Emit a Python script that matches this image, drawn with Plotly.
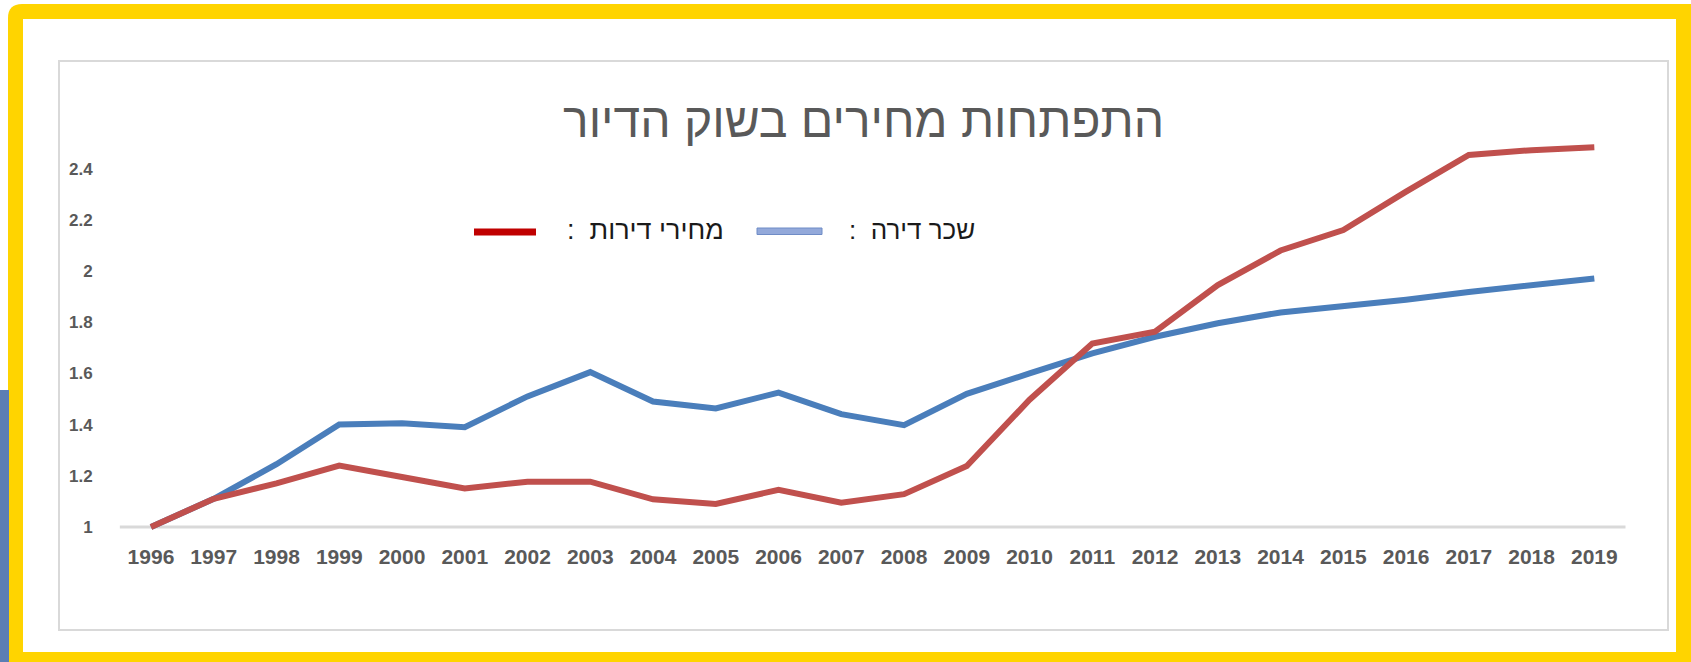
import plotly.graph_objects as go

# Index values (1996 = 1)
years = [str(y) for y in range(1996, 2020)]
rent_index = [1.00, 1.11, 1.245, 1.40, 1.405, 1.39, 1.51, 1.605, 1.49, 1.463, 1.525, 1.441,
              1.398, 1.52, 1.60, 1.678, 1.743, 1.796, 1.838, 1.862, 1.888, 1.918, 1.944, 1.971]
price_index = [1.00, 1.11, 1.17, 1.24, 1.195, 1.15, 1.177, 1.177, 1.108, 1.09, 1.145, 1.095,
               1.128, 1.238, 1.497, 1.717, 1.763, 1.945, 2.08, 2.16, 2.31, 2.453, 2.472, 2.483]
y_ticks = [1, 1.2, 1.4, 1.6, 1.8, 2, 2.2, 2.4]
y_tick_text = ["1", "1.2", "1.4", "1.6", "1.8", "2", "2.2", "2.4"]

title_text = "התפתחות מחירים בשוק הדיור"
rent_label = "שכר דירה :"
price_label = "מחירי דירות :"

W, H = 1691, 662
RLM = "\u200f"

BLUE = "#4A7EBB"
RED = "#C0504D"
GOLD = "#FFD400"
FONT = "Liberation Sans, Arial, sans-serif"


def px(x):
    return x / W


def py(y):
    return 1 - y / H


def legend_text(label):
    # widen the gap before the colon and keep the colon on the left (RTL)
    return label.replace(" :", "\u00a0\u00a0:") + RLM


fig = go.Figure()
fig.add_trace(go.Scatter(x=years, y=rent_index, mode="lines", name=rent_label,
                         line=dict(color=BLUE, width=6), showlegend=False))
fig.add_trace(go.Scatter(x=years, y=price_index, mode="lines", name=price_label,
                         line=dict(color=RED, width=6), showlegend=False))

shapes = []
# yellow frame with a rounded top-left corner
r = 14
x0, y0, x1, y1 = px(8), py(4), px(1691) + 0.01, py(662) - 0.01
rx, ry = r / W, r / H
shapes.append(dict(
    type="path", xref="paper", yref="paper", layer="below",
    path=(f"M{x0},{y1} L{x0},{y0 - ry} Q{x0},{y0} {x0 + rx},{y0} "
          f"L{x1},{y0} L{x1},{y1} Z"),
    fillcolor=GOLD, line=dict(width=0)))
# white inner panel
shapes.append(dict(type="rect", xref="paper", yref="paper", layer="below",
                   x0=px(23), x1=px(1676), y0=py(19), y1=py(652),
                   fillcolor="white", line=dict(width=0)))
# chart box
shapes.append(dict(type="rect", xref="paper", yref="paper", layer="below",
                   x0=px(59), x1=px(1668), y0=py(61), y1=py(630),
                   fillcolor="white", line=dict(color="#D9D9D9", width=2)))
# blue strip on the left edge
shapes.append(dict(type="rect", xref="paper", yref="paper", layer="below",
                   x0=px(-2), x1=px(9), y0=py(390), y1=py(664),
                   fillcolor="#5B7EB4", line=dict(width=0)))
# horizontal axis line at 1
shapes.append(dict(type="line", xref="x", yref="y", layer="below",
                   x0=-0.5, x1=23.5, y0=1, y1=1,
                   line=dict(color="#D9D9D9", width=3)))
# legend keys
shapes.append(dict(type="line", xref="paper", yref="paper",
                   x0=px(474), x1=px(536), y0=py(232), y1=py(232),
                   line=dict(color="#C00000", width=7)))
shapes.append(dict(type="rect", xref="paper", yref="paper",
                   x0=px(757), x1=px(822), y0=py(228), y1=py(234.5),
                   fillcolor="#93A9DA", line=dict(color="#6F8CC6", width=1)))

annotations = [
    dict(text=title_text, xref="paper", yref="paper", x=px(863), y=py(121),
         xanchor="center", yanchor="middle", showarrow=False,
         font=dict(family=FONT, size=48, color="#595959")),
    dict(text=legend_text(price_label), xref="paper", yref="paper", x=px(726), y=py(230),
         xanchor="right", yanchor="middle", showarrow=False,
         font=dict(family=FONT, size=27, color="#1A1A1A")),
    dict(text=legend_text(rent_label), xref="paper", yref="paper", x=px(977), y=py(230),
         xanchor="right", yanchor="middle", showarrow=False,
         font=dict(family=FONT, size=26, color="#1A1A1A")),
]

fig.update_layout(
    width=W, height=H,
    margin=dict(l=0, r=0, t=0, b=0),
    paper_bgcolor="white",
    plot_bgcolor="rgba(0,0,0,0)",
    shapes=shapes,
    annotations=annotations,
    showlegend=False,
    xaxis=dict(
        type="category", range=[-0.5, 23.5],
        domain=[px(119.6), px(1625.7)],
        showgrid=False, showline=False, zeroline=False,
        ticks="", ticklabelstandoff=5,
        tickfont=dict(family=FONT, size=21, color="#595959", weight="bold"),
    ),
    yaxis=dict(
        range=[0.96, 2.6],
        domain=[py(537.2), py(117.4)],
        tickvals=y_ticks, ticktext=y_tick_text,
        showgrid=False, showline=False, zeroline=False,
        ticks="", ticklabelstandoff=26,
        tickfont=dict(family=FONT, size=17, color="#595959", weight="bold"),
    ),
)

fig.write_html("out.html")
